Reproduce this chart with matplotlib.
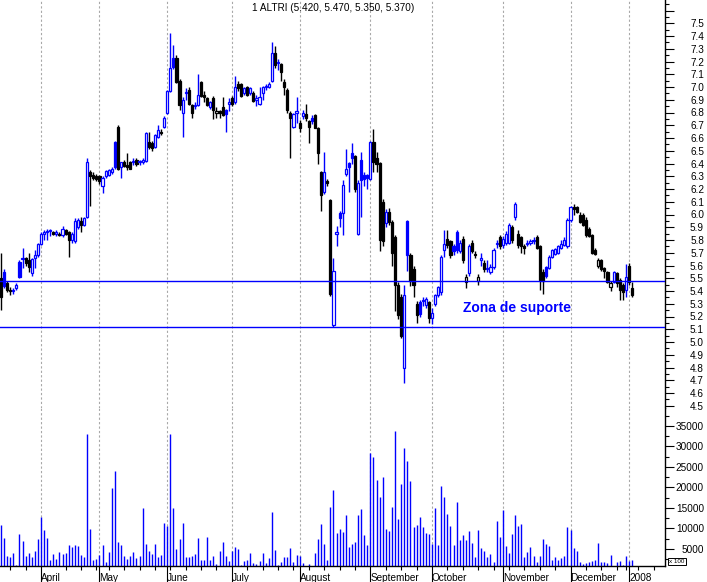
import numpy as np
import pandas as pd
import matplotlib
matplotlib.use("Agg")
import matplotlib.pyplot as plt
from matplotlib.ticker import FixedLocator, NullFormatter

plt.rcParams['font.family'] = ['Liberation Sans', 'DejaVu Sans']

# trading days (Euronext holidays removed)
holidays = ["2007-04-06", "2007-04-09", "2007-05-01", "2007-12-25", "2007-12-26", "2008-01-01"]
days = pd.bdate_range("2007-03-14", "2008-01-03")
days = days[~days.isin(pd.to_datetime(holidays))]

# one line per month: Mar .. Dec 2007, Jan 2008
opens = [
    5.50, 5.55, 5.46, 5.41, 5.40, 5.42, 5.63, 5.65, 5.66, 5.64, 5.54, 5.66, 5.68,
    5.77, 5.85, 5.86, 5.87, 5.86, 5.85, 5.85, 5.84, 5.88, 5.86, 5.80, 5.79, 5.90, 5.95, 5.92, 5.98, 6.33, 6.31, 6.30,
    6.30, 6.22, 6.30, 6.31, 6.33, 6.57, 6.69, 6.37, 6.41, 6.39, 6.41, 6.41, 6.43, 6.41, 6.41, 6.42, 6.57, 6.56, 6.53, 6.61, 6.65, 6.69,
    6.80, 6.97, 7.23, 7.23, 7.05, 6.80, 6.95, 6.98, 6.86, 6.85, 6.86, 7.04, 6.94, 6.91, 6.84, 6.91, 6.80, 6.81, 6.84, 6.82, 6.87,
    6.91, 6.88, 7.02, 7.02, 6.95, 7.00, 6.95, 6.95, 6.90, 6.87, 6.95, 7.00, 7.00, 7.05, 7.27, 7.19, 7.18, 7.04, 6.98, 6.80, 6.69, 6.80,
    6.72, 6.77, 6.79, 6.73, 6.76, 6.78, 6.68, 6.33, 6.18, 6.26, 6.11, 5.13, 5.85, 6.01, 6.01, 6.32, 6.40, 6.48, 6.46, 5.85, 6.43, 6.31, 6.31,
    6.28, 6.57, 6.44, 6.40, 6.10, 5.93, 6.02, 5.94, 5.82, 5.45, 5.35, 4.80, 5.95, 5.68, 5.57, 5.30, 5.31, 5.32, 5.29, 5.31,
    5.19, 5.30, 5.37, 5.39, 5.72, 5.81, 5.79, 5.75, 5.86, 5.71, 5.81, 5.47, 5.54, 5.78, 5.69, 5.48, 5.64, 5.62, 5.57, 5.55, 5.59, 5.77, 5.82,
    5.76, 5.78, 5.78, 5.90, 5.98, 5.85, 5.82, 5.75, 5.77, 5.78, 5.79, 5.82, 5.75, 5.55, 5.59, 5.58, 5.67, 5.69, 5.70, 5.74, 5.76, 5.75,
    5.96, 6.06, 6.06, 6.00, 6.00, 5.96, 5.89, 5.84, 5.72, 5.60, 5.64, 5.58, 5.55, 5.43, 5.47, 5.54, 5.49, 5.45, 5.41,
    5.60, 5.42,
]
highs = [
    5.70, 5.57, 5.48, 5.43, 5.42, 5.46, 5.64, 5.74, 5.67, 5.70, 5.66, 5.72, 5.78,
    5.86, 5.88, 5.89, 5.89, 5.87, 5.88, 5.86, 5.91, 5.89, 5.87, 5.86, 5.97, 5.97, 5.98, 5.98, 6.44, 6.35, 6.33, 6.32,
    6.31, 6.30, 6.35, 6.36, 6.37, 6.58, 6.70, 6.41, 6.43, 6.48, 6.42, 6.44, 6.44, 6.43, 6.44, 6.65, 6.65, 6.58, 6.63, 6.70, 6.67, 6.77,
    6.98, 7.42, 7.33, 7.25, 7.06, 6.92, 6.99, 7.00, 6.87, 6.88, 7.10, 7.05, 6.97, 6.92, 6.89, 6.93, 6.84, 6.82, 6.92, 6.83, 6.91,
    6.93, 7.09, 7.05, 7.03, 7.00, 7.01, 7.00, 6.97, 6.94, 7.00, 7.01, 7.02, 7.04, 7.35, 7.32, 7.22, 7.19, 7.06, 6.99, 6.81, 6.80, 6.92,
    6.74, 6.82, 6.87, 6.74, 6.78, 6.79, 6.69, 6.34, 6.49, 6.28, 6.12, 5.66, 5.91, 6.03, 6.27, 6.51, 6.41, 6.56, 6.47, 6.27, 6.49, 6.33, 6.32,
    6.58, 6.67, 6.49, 6.41, 6.12, 6.04, 6.05, 5.96, 5.84, 5.47, 5.38, 5.45, 5.96, 5.70, 5.60, 5.32, 5.33, 5.35, 5.35, 5.32,
    5.27, 5.38, 5.44, 5.68, 5.88, 5.88, 5.80, 5.77, 5.88, 5.80, 5.83, 5.53, 5.77, 5.80, 5.71, 5.53, 5.70, 5.64, 5.64, 5.61, 5.74, 5.80, 5.84,
    5.83, 5.87, 5.93, 5.92, 6.10, 5.88, 5.83, 5.77, 5.80, 5.81, 5.82, 5.84, 5.76, 5.57, 5.60, 5.68, 5.73, 5.74, 5.76, 5.80, 5.82, 5.97,
    6.07, 6.08, 6.07, 6.02, 6.01, 5.98, 5.90, 5.85, 5.74, 5.66, 5.65, 5.59, 5.56, 5.48, 5.56, 5.55, 5.50, 5.46, 5.61,
    5.62, 5.47,
]
lows = [
    5.25, 5.42, 5.39, 5.37, 5.38, 5.41, 5.50, 5.58, 5.60, 5.55, 5.52, 5.58, 5.67,
    5.76, 5.80, 5.80, 5.83, 5.84, 5.83, 5.83, 5.82, 5.84, 5.67, 5.78, 5.78, 5.89, 5.86, 5.91, 5.97, 6.07, 6.27, 6.26,
    6.24, 6.17, 6.29, 6.30, 6.32, 6.36, 6.35, 6.29, 6.37, 6.35, 6.36, 6.39, 6.38, 6.39, 6.40, 6.41, 6.51, 6.50, 6.52, 6.60, 6.62, 6.68,
    6.79, 6.96, 7.14, 7.03, 6.82, 6.61, 6.90, 6.86, 6.76, 6.83, 6.85, 6.92, 6.88, 6.85, 6.83, 6.75, 6.76, 6.76, 6.77, 6.65, 6.81,
    6.85, 6.87, 6.97, 6.92, 6.94, 6.93, 6.94, 6.88, 6.85, 6.86, 6.90, 6.98, 6.99, 7.04, 7.15, 7.13, 7.05, 6.94, 6.80, 6.44, 6.68, 6.72,
    6.65, 6.75, 6.73, 6.56, 6.71, 6.68, 6.40, 6.03, 6.16, 6.22, 5.36, 5.12, 5.75, 5.90, 5.84, 6.30, 6.18, 6.40, 6.18, 5.84, 5.98, 6.22, 6.20,
    6.27, 6.33, 6.33, 5.71, 5.75, 5.90, 5.92, 5.60, 5.24, 5.18, 5.03, 4.68, 5.56, 5.44, 5.35, 5.15, 5.20, 5.28, 5.27, 5.15,
    5.14, 5.28, 5.35, 5.37, 5.67, 5.74, 5.66, 5.68, 5.70, 5.70, 5.62, 5.42, 5.52, 5.70, 5.66, 5.45, 5.60, 5.55, 5.55, 5.53, 5.57, 5.74, 5.73,
    5.74, 5.76, 5.77, 5.78, 5.96, 5.74, 5.70, 5.69, 5.75, 5.76, 5.77, 5.73, 5.41, 5.38, 5.50, 5.57, 5.66, 5.68, 5.69, 5.73, 5.75, 5.74,
    5.94, 6.00, 6.01, 5.93, 5.91, 5.82, 5.82, 5.69, 5.68, 5.58, 5.56, 5.50, 5.46, 5.40, 5.46, 5.43, 5.33, 5.33, 5.35,
    5.45, 5.35,
]
closes = [
    5.35, 5.44, 5.41, 5.40, 5.41, 5.45, 5.51, 5.66, 5.62, 5.59, 5.65, 5.68, 5.77,
    5.85, 5.86, 5.87, 5.88, 5.85, 5.86, 5.84, 5.89, 5.85, 5.80, 5.85, 5.95, 5.96, 5.92, 5.97, 6.41, 6.30, 6.29, 6.28,
    6.26, 6.29, 6.34, 6.35, 6.36, 6.37, 6.36, 6.41, 6.38, 6.37, 6.36, 6.42, 6.40, 6.42, 6.43, 6.64, 6.53, 6.52, 6.62, 6.66, 6.64, 6.76,
    6.97, 7.15, 7.16, 7.04, 6.86, 6.90, 6.96, 6.87, 6.80, 6.86, 6.94, 6.93, 6.92, 6.86, 6.88, 6.82, 6.81, 6.80, 6.78, 6.79, 6.88,
    6.87, 7.00, 6.99, 6.93, 6.99, 6.94, 6.99, 6.89, 6.91, 6.92, 7.00, 7.01, 7.02, 7.27, 7.17, 7.20, 7.12, 7.00, 6.82, 6.76, 6.79, 6.81,
    6.68, 6.80, 6.76, 6.69, 6.73, 6.68, 6.48, 6.15, 6.33, 6.25, 5.38, 5.56, 5.86, 5.97, 6.23, 6.36, 6.37, 6.44, 6.20, 6.25, 6.27, 6.28, 6.29,
    6.57, 6.41, 6.40, 5.80, 5.79, 6.02, 5.94, 5.70, 5.45, 5.21, 5.05, 5.37, 5.68, 5.48, 5.45, 5.21, 5.22, 5.33, 5.34, 5.19,
    5.23, 5.37, 5.43, 5.67, 5.77, 5.76, 5.68, 5.71, 5.72, 5.78, 5.64, 5.51, 5.75, 5.71, 5.68, 5.51, 5.66, 5.57, 5.58, 5.59, 5.72, 5.78, 5.75,
    5.81, 5.85, 5.92, 5.80, 6.08, 5.76, 5.75, 5.74, 5.78, 5.79, 5.80, 5.74, 5.49, 5.48, 5.52, 5.67, 5.72, 5.73, 5.75, 5.77, 5.80, 5.96,
    6.06, 6.04, 6.02, 5.94, 5.92, 5.84, 5.83, 5.70, 5.69, 5.64, 5.57, 5.56, 5.47, 5.46, 5.55, 5.46, 5.41, 5.39, 5.51,
    5.47, 5.37,
]
volumes = [
    10850, 7760, 3290, 3130, 3940, 1100, 8660, 6950, 3290, 3940, 3130, 4510, 7440,
    12890, 9630, 7760, 2320, 3780, 2560, 4190, 3780, 4020, 5980, 5490, 5980, 5730, 3540, 3130, 33050, 9880, 2320, 2560,
    3540, 5980, 1750, 4270, 19960, 24020, 6710, 5980, 3290, 2560, 3290, 4270, 2800, 3290, 15000, 6220, 4510, 3780, 6220, 3000, 3540, 11260,
    10610, 33050, 15000, 5000, 7440, 11340, 3050, 3050, 3290, 3780, 7680, 2320, 2320, 7930, 2320, 3290, 1340, 4510, 6710, 3290, 2070,
    4510, 5490, 5000, 1100, 2070, 2320, 4020, 1590, 1340, 2070, 4020, 1590, 2800, 14020, 4760, 1100, 1830, 3050, 3050, 5240, 1830, 3540,
    3290, 1590, 900, 1340, 900, 4020, 7440, 11100, 6220, 2320, 15240, 19390, 8900, 9880, 9150, 13290, 5490, 6220, 6710, 13290, 14760, 8410, 5980,
    28410, 27440, 21830, 17680, 22560, 9880, 9390, 15240, 33780, 12320, 20850, 29630, 26460, 21590, 10370, 10850, 12800, 10370, 8900, 8660,
    6220, 15000, 5980, 20370, 17680, 13540, 10610, 5980, 16460, 7200, 8410, 7200, 9390, 6460, 3050, 9630, 5240, 4510, 3050, 3780, 1830, 11830, 7930,
    14510, 5730, 4020, 8660, 13290, 10610, 11100, 3050, 4270, 5490, 3290, 1830, 3290, 7440, 6220, 5730, 2320, 3050, 2320, 2800, 3290, 10370,
    9630, 5240, 4510, 1830, 1340, 1590, 1830, 2070, 2320, 6460, 1830, 1830, 1590, 3540, 900, 1830, 2070, 1100, 3290,
    2070, 2320,
]

support_levels = [5.48, 5.12]
title = "1 ALTRI (5.420, 5.470, 5.350, 5.370)"

W, H = 707, 582
fig = plt.figure(figsize=(W / 100, H / 100), dpi=100)
right = 665 / W
ax = fig.add_axes([0, 1 - 408 / H, right, 408 / H])
axv = fig.add_axes([0, 1 - 566 / H, right, (566 - 408) / H])

idx = np.arange(len(days))
o, h, l, c = map(np.array, (opens, highs, lows, closes))
prev = np.r_[o[0], c[:-1]]
col = np.where(c >= prev, "#0000ff", "black")
face = np.where(c > o, "white", col)

ax.vlines(idx, l, h, colors=col, lw=1, zorder=3)
ax.bar(idx, np.maximum(np.abs(c - o), 0.004), bottom=np.minimum(o, c), width=0.7,
       color=face, edgecolor=col, linewidth=0.9, zorder=4)
for lvl in support_levels:
    ax.axhline(lvl, color="#0000ff", lw=1.0, zorder=5)
ax.text(150, 5.27, "Zona de suporte", color="#0000ff", fontsize=10, fontweight="bold",
        ha="left", va="center")

axv.vlines(idx, 0, volumes, colors="#0000ff", lw=1)

# month starts and weekly ticks
month_starts = [i for i in idx[1:] if days[i].month != days[i - 1].month]
month_labels = [days[i].strftime("%B") if days[i].year == 2007 else str(days[i].year)
                for i in month_starts]
future = pd.bdate_range("2008-01-04", "2008-01-25")
all_days = days.append(future)
mondays = [i for i in range(len(all_days)) if all_days[i].weekday() == 0 and i not in month_starts]

x0 = 13 - 41 / 3.0785
x1 = month_starts[-1] + 36 / 3.0785
for a in (ax, axv):
    a.set_xlim(x0, x1)
    a.xaxis.set_major_locator(FixedLocator(month_starts))
    a.grid(True, axis="x", which="major", linestyle=(0, (2, 2)), color="#a8a8a8", lw=0.8)
    a.set_axisbelow(True)
    for s in ("top", "left"):
        a.spines[s].set_visible(False)
    a.spines["right"].set_linewidth(1)
    a.yaxis.tick_right()
    a.tick_params(axis="y", which="major", direction="out", length=6.5, width=0.8,
                  labelsize=7.2, pad=21.6)
    a.tick_params(axis="y", which="minor", direction="out", length=3, width=0.8)

ax.spines["bottom"].set_visible(False)
ax.tick_params(axis="x", which="both", length=0, labelbottom=False)
ax.set_ylim(7.0 - 321 / 127.5, 7.0 + 87 / 127.5)
pticks = np.round(np.arange(4.5, 7.61, 0.1), 2)
ax.set_yticks(pticks)
ax.set_yticklabels([f"{t:.1f}" if t <= 7.5 else "" for t in pticks])
ax.yaxis.set_minor_locator(FixedLocator(np.round(np.arange(4.55, 7.7, 0.1), 2)))
plt.setp(ax.get_yticklabels(), ha="right")

vticks = np.arange(5000, 35001, 5000)
axv.set_ylim(5000 - 17 * 243.9, 5000 + 141 * 243.9)
axv.set_yticks(vticks)
axv.set_yticklabels([str(v) for v in vticks])
axv.yaxis.set_minor_locator(FixedLocator(np.arange(2500, 38000, 2500)))
plt.setp(axv.get_yticklabels(), ha="right")
axv.spines["bottom"].set_linewidth(1)
axv.set_xticklabels(month_labels, ha="left")
axv.xaxis.set_minor_locator(FixedLocator(mondays))
axv.xaxis.set_minor_formatter(NullFormatter())
axv.tick_params(axis="x", which="major", direction="out", length=11.5, width=0.8,
                labelsize=7.2, pad=-6.5)
axv.tick_params(axis="x", which="minor", direction="out", length=3, width=0.8)

fig.text(333 / W, 1 - 8 / H, title, fontsize=7.2, ha="center", va="center")
fig.text(669 / W, 1 - 561.5 / H, "x 100", fontsize=4.5, ha="left", va="center",
         bbox=dict(boxstyle="square,pad=0.2", fc="white", ec="black", lw=0.7))

fig.savefig("out.png", dpi=100)
